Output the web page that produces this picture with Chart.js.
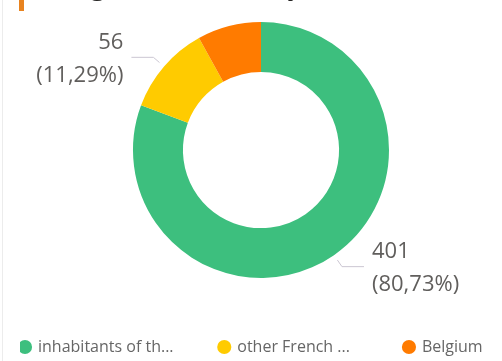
<!DOCTYPE html>
<html><head><meta charset="utf-8">
<script src="https://cdn.jsdelivr.net/npm/chart.js@4"></script>
<style>
html,body{margin:0;padding:0;background:#fff;}
#wrap{position:relative;width:502px;height:361px;overflow:hidden;background:#fff;}
#title{position:absolute;left:50px;top:-31px;font-family:'Open Sans',sans-serif;font-size:28px;line-height:28px;color:#252423;white-space:nowrap;}
#accent{position:absolute;left:19px;top:0;width:5px;height:11px;background:#E8831F;}
#border{position:absolute;left:2px;top:0;width:1px;height:361px;background:#ececec;}
canvas{position:absolute;left:0;top:0;}
</style></head><body>
<div id="wrap">
<canvas id="c" width="502" height="361"></canvas>
<div id="title">Origin of visitors by residence</div>
<div id="accent"></div><div id="border"></div>
</div>
<script>
const categories = ['inhabitants of the region', 'other French regions', 'Belgium'];
const legendLabels = ['inhabitants of th...', 'other French ...', 'Belgium'];
const values = [401, 56, 40];
const percents = [80.73, 11.29, 7.98];
const colors = ['#3DBF7E', '#FFCB00', '#FF7B00'];

const legendGaps = [11, 13, 0];

const labelFont = "22px 'Open Sans', sans-serif";
const labelColor = '#605E5C';
const leaderColor = '#cbc6d2';

const sliceLabels = {
  id: 'sliceLabels',
  afterDatasetsDraw(chart) {
    const ctx = chart.ctx;
    const meta = chart.getDatasetMeta(0);
    meta.data.forEach((arc, i) => {
      if (percents[i] < 10) return;
      const p = arc.getProps(['x', 'y', 'startAngle', 'endAngle', 'outerRadius'], true);
      const mid = (p.startAngle + p.endAngle) / 2;
      const c = Math.cos(mid), s = Math.sin(mid);
      const r0 = p.outerRadius + 6, r1 = p.outerRadius + 14;
      const x0 = p.x + r0 * c, y0 = p.y + r0 * s;
      const x1 = p.x + r1 * c, y1 = p.y + r1 * s;
      const right = c >= 0;
      const x2 = x1 + (right ? 22 : -22);
      ctx.save();
      ctx.strokeStyle = leaderColor;
      ctx.lineWidth = 1;
      ctx.beginPath();
      ctx.moveTo(x0, y0); ctx.lineTo(x1, y1); ctx.lineTo(x2, y1);
      ctx.stroke();
      ctx.font = labelFont;
      ctx.fillStyle = labelColor;
      ctx.textBaseline = 'middle';
      ctx.textAlign = right ? 'left' : 'right';
      const tx = x2 + (right ? 8 : -8);
      ctx.fillText(String(values[i]), tx, y1 - 15);
      ctx.fillText('(' + percents[i].toFixed(2).replace('.', ',') + '%)', tx, y1 + 18);
      ctx.restore();
    });
  }
};

new Chart(document.getElementById('c'), {
  type: 'doughnut',
  data: {
    labels: categories,
    datasets: [{
      data: values,
      backgroundColor: colors,
      borderWidth: 0,
      radius: 128,
      cutout: '61%'
    }]
  },
  options: {
    responsive: false,
    animation: false,
    layout: { padding: { top: 22, left: 20, right: 0, bottom: 0 } },
    plugins: {
      tooltip: { enabled: false },
      legend: {
        position: 'bottom',
        align: 'start',
        maxHeight: 83,
        title: { display: true, text: '', font: { size: 12, lineHeight: 1 }, padding: { top: 49, bottom: 0 } },
        labels: {
          usePointStyle: true,
          pointStyle: 'circle',
          boxWidth: 10,
          boxHeight: 10,
          padding: 0,
          color: '#605E5C',
          font: { family: "'Open Sans', sans-serif", size: 16 },
          generateLabels(chart) {
            return legendLabels.map((t, i) => ({
              text: t + ' '.repeat(legendGaps[i]),
              fillStyle: colors[i],
              strokeStyle: colors[i],
              lineWidth: 0,
              pointStyle: 'circle',
              hidden: false,
              index: i,
              datasetIndex: 0
            }));
          }
        }
      }
    }
  },
  plugins: [sliceLabels]
});
</script>
</body></html>
